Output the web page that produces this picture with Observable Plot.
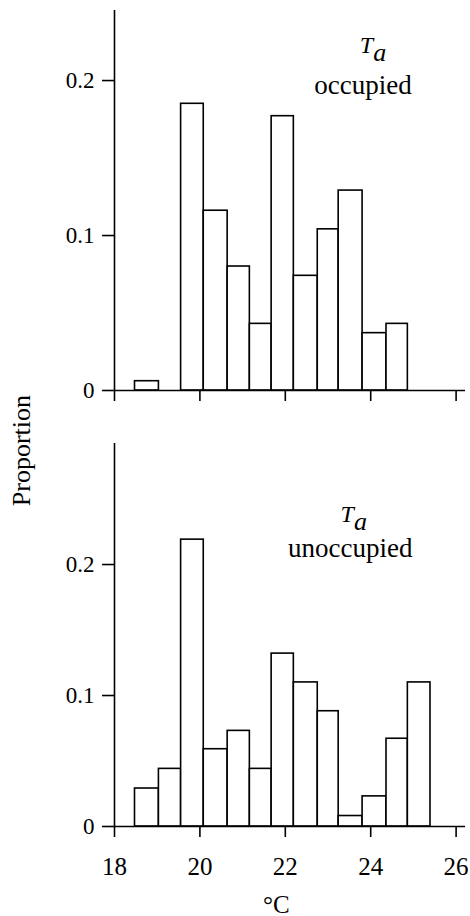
<!DOCTYPE html>
<html><head><meta charset="utf-8">
<script src="https://cdn.jsdelivr.net/npm/d3@7"></script>
<script src="https://cdn.jsdelivr.net/npm/@observablehq/plot@0.6"></script>
<style>
body{margin:0;background:#fff;font-family:"Liberation Serif",serif}
#chart{width:470px;position:relative}
#chart svg{display:block;overflow:visible}
</style>
</head><body><div id="chart"></div>
<script>
// bin edges (°C) shared by both histograms
const binEdges = [18.48, 19.04, 19.56, 20.09, 20.65, 21.17, 21.68, 22.20, 22.76, 23.25, 23.81, 24.37, 24.87, 25.40];
// proportions per bin
const occupied = [0.006, 0, 0.185, 0.116, 0.080, 0.043, 0.177, 0.074, 0.104, 0.129, 0.037, 0.043];
const unoccupied = [0.029, 0.044, 0.219, 0.059, 0.073, 0.044, 0.132, 0.110, 0.088, 0.008, 0.023, 0.067, 0.110];
const xTicks = [18, 20, 22, 24, 26];
const yTicks = [0, 0.1, 0.2];
const panelTitles = ["occupied", "unoccupied"];
const symbolMain = "T", symbolSub = "a";
const xTitle = "°C", yTitle = "Proportion";

const toRows = vals => vals.map((v, i) => ({x1: binEdges[i], x2: binEdges[i + 1], v}));
const serif = "'Liberation Serif', 'Times New Roman', serif";
const sw = 1.6;
const yFmt = d => d === 0 ? "0" : d3.format(".1f")(d);
const common = {
  width: 470, marginLeft: 114, marginRight: 5,
  x: {domain: [18, 26.22]},
  style: {background: "white", overflow: "visible", color: "black"}
};
const symbol = symbolMain + symbolSub;

const topPanel = Plot.plot({
  ...common, height: 420, marginTop: 10, marginBottom: 30,
  y: {domain: [0, 0.2452]},
  marks: [
    Plot.rectY(toRows(occupied), {x1: "x1", x2: "x2", y: "v", fill: "white", stroke: "black", strokeWidth: sw}),
    Plot.ruleX([18], {strokeWidth: sw}),
    Plot.ruleY([0], {strokeWidth: sw}),
    Plot.axisY(yTicks, {tickSize: 12, tickPadding: 8, fontSize: 23, fontFamily: serif, tickFormat: yFmt, label: null, strokeWidth: sw}),
    Plot.axisX(xTicks, {tickSize: 11, tickFormat: () => "", label: null, strokeWidth: sw}),
    Plot.text([symbol], {x: 23.745, y: 0.2175, text: d => d, fontFamily: serif, fontStyle: "italic", fontSize: 24, textAnchor: "start", lineAnchor: "bottom"}),
    Plot.text([panelTitles[0]], {x: 23.82, y: 0.1914, text: d => d, fontFamily: serif, fontSize: 27, textAnchor: "middle", lineAnchor: "bottom"})
  ]
});

const bottomPanel = Plot.plot({
  ...common, height: 496, marginTop: 23, marginBottom: 90,
  y: {domain: [0, 0.2924]},
  marks: [
    Plot.rectY(toRows(unoccupied), {x1: "x1", x2: "x2", y: "v", fill: "white", stroke: "black", strokeWidth: sw}),
    Plot.ruleX([18], {strokeWidth: sw}),
    Plot.ruleY([0], {strokeWidth: sw}),
    Plot.axisY(yTicks, {tickSize: 12, tickPadding: 8, fontSize: 23, fontFamily: serif, tickFormat: yFmt, label: null, strokeWidth: sw}),
    Plot.axisX(xTicks, {tickSize: 11, tickPadding: 20, fontSize: 25, fontFamily: serif, tickFormat: d => String(d), label: null, strokeWidth: sw}),
    Plot.text([symbol], {x: 23.295, y: 0.2325, text: d => d, fontFamily: serif, fontStyle: "italic", fontSize: 24, textAnchor: "start", lineAnchor: "bottom"}),
    Plot.text([panelTitles[1]], {x: 23.52, y: 0.2056, text: d => d, fontFamily: serif, fontSize: 27, textAnchor: "middle", lineAnchor: "bottom"}),
    Plot.text([xTitle], {x: 21.79, frameAnchor: "bottom", dy: 86, text: d => d, fontFamily: serif, fontSize: 25, textAnchor: "middle", lineAnchor: "bottom"}),
    Plot.text([yTitle], {x: 16.03, y: 0.287, text: d => d, fontFamily: serif, fontSize: 26, rotate: -90, textAnchor: "middle", lineAnchor: "bottom"})
  ]
});

const el = document.getElementById("chart");
el.appendChild(topPanel);
el.appendChild(bottomPanel);

// force the serif face on every text, and lower the symbol's second letter as a subscript
const NS = "http://www.w3.org/2000/svg";
el.querySelectorAll("svg").forEach(s => s.setAttribute("font-family", serif));
el.querySelectorAll("text").forEach(t => {
  t.style.setProperty("font-family", serif, "important");
  if (t.textContent === symbol) {
    t.textContent = "";
    const a = document.createElementNS(NS, "tspan");
    a.textContent = symbolMain;
    const b = document.createElementNS(NS, "tspan");
    b.textContent = symbolSub;
    b.setAttribute("dy", "8");
    b.setAttribute("font-size", "26");
    t.appendChild(a);
    t.appendChild(b);
  }
});
</script>
</body></html>
